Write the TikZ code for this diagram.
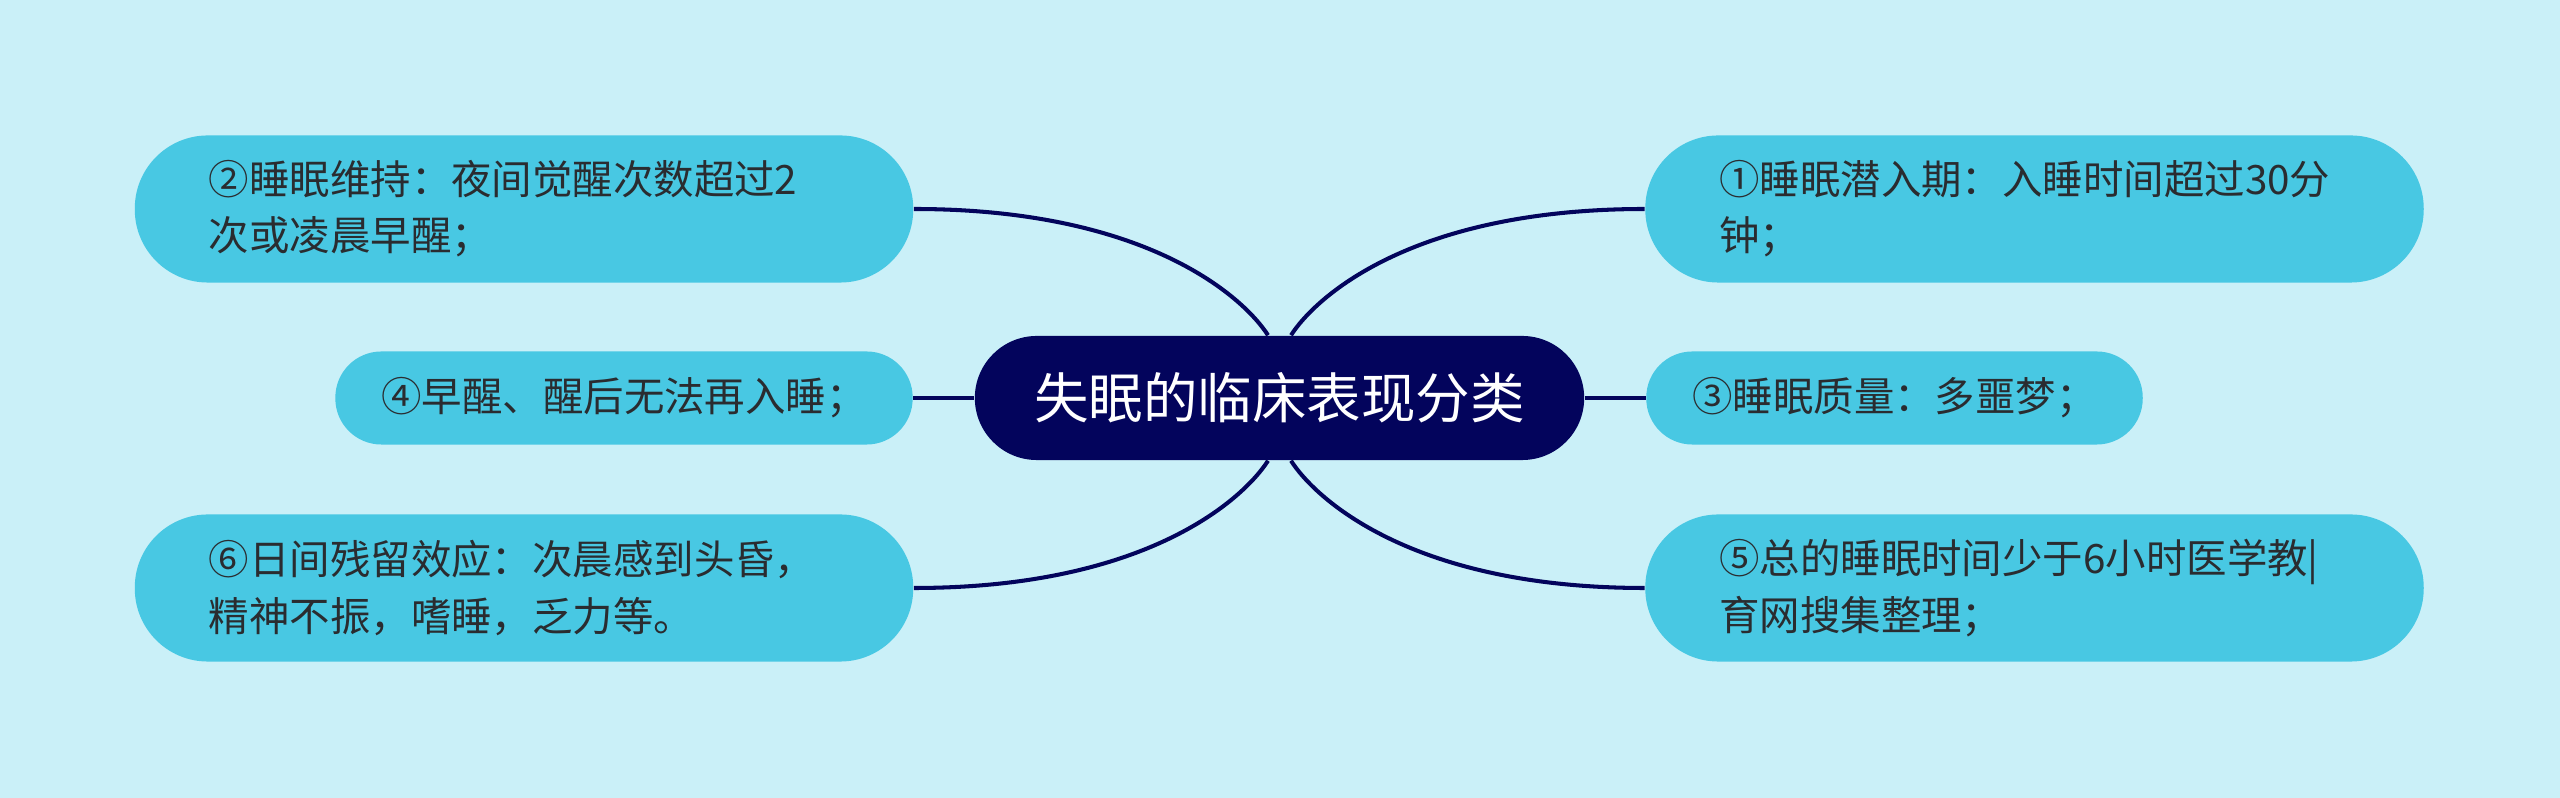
\documentclass[tikz,border=0pt]{standalone}
\usepackage{fontspec}
\setmainfont{Noto Sans CJK SC}
\usepackage{tikz}

\definecolor{bgcyan}{HTML}{CAF0F8}
\definecolor{leafblue}{HTML}{48C8E3}
\definecolor{topicnavy}{HTML}{03045C}
\definecolor{leaftext}{HTML}{2A2C30}

\begin{document}
\begin{tikzpicture}[x=0.01cm, y=-0.01cm,
  leaf/.style={fill=leafblue, text=leaftext, rounded corners=0.46cm, minimum height=0.93cm, inner xsep=0.46cm, inner ysep=0pt, font=\fontsize{11.5pt}{16pt}\selectfont},
  longleaf/.style={leaf, rounded corners=0.73cm, minimum height=1.47cm, inner xsep=0.74cm, text width=6.3cm, align=left},
  topic/.style={fill=topicnavy, text=white, rounded corners=0.62cm, minimum width=6.09cm, minimum height=1.24cm, font=\fontsize{15.5pt}{18pt}\selectfont},
  link/.style={draw=topicnavy, line width=1.15pt}]
\fill[bgcyan] (0,0) rectangle (2560,798);
\useasboundingbox (0,0) rectangle (2560,798);

\node[topic] (center) at (1279.5,398) {失眠的临床表现分类};

\node[longleaf] (leaf1) at (2034.5,209) {①睡眠潜入期：入睡时间超过30分\\钟；};
\node[longleaf] (leaf2) at (524,209) {②睡眠维持：夜间觉醒次数超过2\\次或凌晨早醒；};
\node[leaf] (leaf3) at (1894.5,398) {③睡眠质量：多噩梦；};
\node[leaf] (leaf4) at (624,398) {④早醒、醒后无法再入睡；};
\node[longleaf] (leaf5) at (2034.5,588) {⑤总的睡眠时间少于6小时医学教|\\育网搜集整理；};
\node[longleaf] (leaf6) at (524,588) {⑥日间残留效应：次晨感到头昏，\\精神不振，嗜睡，乏力等。};

\draw[link] ([xshift=-0.115cm]center.north) .. controls +(-23,-36) and +(236,0) .. (leaf2.east);
\draw[link] ([xshift=0.115cm]center.north) .. controls +(23,-36) and +(-236,0) .. (leaf1.west);
\draw[link] ([xshift=-0.115cm]center.south) .. controls +(-23,36) and +(236,0) .. (leaf6.east);
\draw[link] ([xshift=0.115cm]center.south) .. controls +(23,36) and +(-236,0) .. (leaf5.west);
\draw[link] (center.west) -- (leaf4.east);
\draw[link] (center.east) -- (leaf3.west);
\end{tikzpicture}
\end{document}
